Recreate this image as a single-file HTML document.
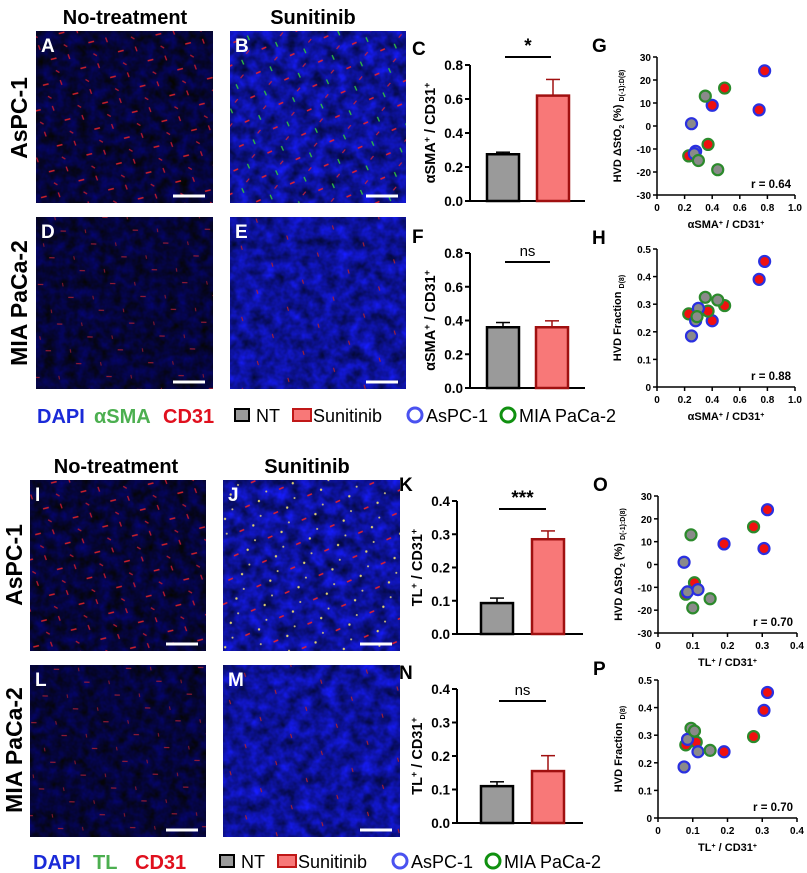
<!DOCTYPE html>
<html><head><meta charset="utf-8"><style>
body{margin:0;background:#fff;}
svg{display:block;font-family:"Liberation Sans",Arial,sans-serif;}
</style></head><body>
<svg id="fig" width="807" height="873" viewBox="0 0 807 873" xmlns="http://www.w3.org/2000/svg">
<defs>
<filter id="nDark" x="0" y="0" width="100%" height="100%" color-interpolation-filters="sRGB">
<feTurbulence type="fractalNoise" baseFrequency="0.09" numOctaves="3" seed="3"/>
<feColorMatrix type="matrix" values="0 0 0 0 0.02  0 0 0 0 0.02  0.55 0 0 0 -0.05  0 0 0 0 1"/>
</filter>
<filter id="nBright" x="0" y="0" width="100%" height="100%" color-interpolation-filters="sRGB">
<feTurbulence type="fractalNoise" baseFrequency="0.08" numOctaves="3" seed="7"/>
<feColorMatrix type="matrix" values="0.1 0 0 0 0.0  0.1 0 0 0 0.02  1.0 0 0 0 0.1  0 0 0 0 1"/>
</filter>
<pattern id="sqR" width="31" height="27" patternUnits="userSpaceOnUse" patternTransform="rotate(17)">
<path d="M4 15 l5 -3" stroke="#d0202a" stroke-width="1.6"/>
<path d="M19 5 l3 4" stroke="#c01830" stroke-width="1.3"/>
<path d="M12 24 l4 1" stroke="#b01830" stroke-width="1.2"/>
</pattern>
<pattern id="sqD" width="33" height="29" patternUnits="userSpaceOnUse" patternTransform="rotate(23)">
<path d="M14 15 l5 -2" stroke="#a01c34" stroke-width="1.2"/>
<path d="M3 4 l2 3" stroke="#901830" stroke-width="1"/>
</pattern>
<pattern id="sqB" width="29" height="25" patternUnits="userSpaceOnUse" patternTransform="rotate(13)">
<path d="M5 14 l4 -3" stroke="#e02030" stroke-width="1.5"/>
<path d="M17 4 l3 4" stroke="#30c040" stroke-width="1.3"/>
<path d="M22 18 l-2 4" stroke="#c02040" stroke-width="1.2"/>
</pattern>
<pattern id="sqJ" width="29" height="25" patternUnits="userSpaceOnUse" patternTransform="rotate(13)">
<path d="M5 14 l4 -3" stroke="#e02030" stroke-width="1.5"/>
<circle cx="17" cy="5" r="1.2" fill="#e0d070"/>
<circle cx="22" cy="19" r="1" fill="#d0c080"/>
</pattern>
<pattern id="sqE" width="35" height="31" patternUnits="userSpaceOnUse" patternTransform="rotate(29)">
<path d="M15 5 l3 3" stroke="#b02030" stroke-width="1.1"/>
</pattern>
</defs>
</svg>
<script>
// ---- data ----
const barCats = ['NT','Sunitinib'];
const barC = [0.275, 0.62];  const errC = [0.012, 0.095];
const barF = [0.36, 0.36];   const errF = [0.028, 0.038];
const barK = [0.093, 0.285]; const errK = [0.015, 0.025];
const barN = [0.11, 0.155];  const errN = [0.013, 0.046];
const sigLabels = ['*','ns','***','ns'];
const ticks08 = [0,0.2,0.4,0.6,0.8];
const ticks04 = [0,0.1,0.2,0.3,0.4];
const ticksDelta = [-30,-20,-10,0,10,20,30];
const ticksFrac = [0,0.1,0.2,0.3,0.4,0.5];
const ticksX1 = [0,0.2,0.4,0.6,0.8,1.0];
const ticksX04 = [0,0.1,0.2,0.3,0.4];
// scatter: fill (g=NT gray, r=Sunitinib red), stroke (b=AsPC-1, g=MIA PaCa-2)
const scFill =   ['r','r','r','r','g','g','r','r','g','g','g','g'];
const scStroke = ['b','b','b','g','g','b','g','g','b','b','g','g'];
const gX = [0.78,0.74,0.40,0.49,0.35,0.25,0.37,0.23,0.28,0.27,0.30,0.44];
const gY = [24,7,9,16.5,13,1,-8,-13,-11,-12,-15,-19];
const hX = [0.78,0.74,0.40,0.49,0.35,0.25,0.37,0.23,0.30,0.28,0.29,0.44];
const hY = [0.455,0.39,0.24,0.295,0.325,0.185,0.275,0.265,0.285,0.24,0.255,0.315];
const oX = [0.315,0.305,0.19,0.275,0.095,0.075,0.105,0.08,0.085,0.115,0.15,0.10];
const oY = [24,7,9,16.5,13,1,-8,-13,-12,-11,-15,-19];
const pX = [0.315,0.305,0.19,0.275,0.095,0.075,0.11,0.08,0.085,0.115,0.15,0.105];
const pY = [0.455,0.39,0.24,0.295,0.325,0.185,0.275,0.265,0.285,0.24,0.245,0.315];

const svg = document.getElementById('fig');
const NS='http://www.w3.org/2000/svg';
function mk(tag, attrs, parent){const e=document.createElementNS(NS,tag);for(const k in attrs)e.setAttribute(k,attrs[k]);(parent||svg).appendChild(e);return e;}
function txt(x,y,s,size,opts,name){opts=opts||{};const t=mk('text',{x:x,y:y,'font-size':size,'font-weight':opts.w||'bold',fill:opts.fill||'#000','text-anchor':opts.a||'start'});if(opts.rot)t.setAttribute('transform','rotate(-90 '+x+' '+y+')');t.textContent=s;


return t;}

// ---- micrographs ----
function img(x,y,w,h,noise,sq,letter,name){
 const r=mk('rect',{x:x,y:y,width:w,height:h,fill:'#0a0c50',filter:'url(#'+noise+')'});
 
 
 mk('rect',{x:x,y:y,width:w,height:h,fill:'url(#'+sq+')'});
 txt(x+5,y+21,letter,19,{fill:'#fff'},'panel-letter-'+letter);
 const sb=mk('line',{x1:x+w-40,y1:y+h-7,x2:x+w-8,y2:y+h-7,stroke:'#fff','stroke-width':3});
 
 
}
img(36,31,177,172,'nDark','sqR','A','image-a');
img(230,31,176,172,'nBright','sqB','B','image-b');
img(36,217,177,172,'nDark','sqD','D','image-d');
img(230,217,176,172,'nBright','sqE','E','image-e');
img(30,480,176,171,'nDark','sqR','I','image-i');
img(223,480,177,171,'nBright','sqJ','J','image-j');
img(30,665,176,172,'nDark','sqD','L','image-l');
img(223,665,177,172,'nBright','sqE','M','image-m');
txt(125,24,'No-treatment',20,{a:'middle'},'column-header-no-treatment');
txt(313,24,'Sunitinib',20,{a:'middle'},'column-header-sunitinib');
txt(116,473,'No-treatment',20,{a:'middle'},'column-header-no-treatment');
txt(307,473,'Sunitinib',20,{a:'middle'},'column-header-sunitinib');
txt(27,118,'AsPC-1',23,{a:'middle',rot:1},'row-label-aspc1');
txt(27,303,'MIA PaCa-2',23,{a:'middle',rot:1},'row-label-miapaca2');
txt(22,565,'AsPC-1',23,{a:'middle',rot:1},'row-label-aspc1');
txt(22,750,'MIA PaCa-2',23,{a:'middle',rot:1},'row-label-miapaca2');

// ---- legends ----
function legend(y,x0,bx,mid,name){
 const g=mk('g',{});
 
 
 let t=txt(x0,y,'DAPI',20,{fill:'#1a2ad8'},'legend-dapi'); g.appendChild(t);
 t=txt(x0+(mid==='TL'?60:57),y,mid,20,{fill:'#4caf50'},'legend-stain'); g.appendChild(t);
 t=txt(x0+(mid==='TL'?102:126),y,'CD31',20,{fill:'#e0101e'},'legend-cd31'); g.appendChild(t);
 mk('rect',{x:bx,y:y-14,width:14,height:12,fill:'#9a9a9a',stroke:'#000','stroke-width':2},g);
 g.appendChild(txt(bx+21,y-1,'NT',18,{w:'normal'},'legend-nt'));
 mk('rect',{x:bx+58,y:y-14,width:18,height:12,fill:'#f87878',stroke:'#c01818','stroke-width':2},g);
 g.appendChild(txt(bx+78,y-1,'Sunitinib',18,{w:'normal'},'legend-sunitinib'));
 mk('circle',{cx:bx+180,cy:y-8,r:7,fill:'none',stroke:'#4a52f0','stroke-width':3},g);
 g.appendChild(txt(bx+191,y-1,'AsPC-1',18,{w:'normal'},'legend-aspc1'));
 mk('circle',{cx:bx+273,cy:y-8,r:7,fill:'none',stroke:'#109010','stroke-width':3},g);
 g.appendChild(txt(bx+284,y-1,'MIA PaCa-2',18,{w:'normal'},'legend-miapaca2'));
}
legend(423,37,235,'αSMA','legend-top');
legend(869,33,220,'TL','legend-bottom');

// ---- bar charts ----
function barChart(o){
 const {x0,x1,yTop,yBot,max,ticks,vals,errs,letter,ylab,sig,bx}=o;
 const ys=v=>yBot-(v/max)*(yBot-yTop);
 txt(x0-58,yTop-10,letter,19,{},'panel-letter-'+letter);
 mk('line',{x1:x0,y1:yTop,x2:x0,y2:yBot,stroke:'#000','stroke-width':2});
 const ax=mk('line',{x1:x0-5,y1:yBot,x2:x1,y2:yBot,stroke:'#000','stroke-width':2});
 
 
 ticks.forEach(t=>{mk('line',{x1:x0-5,y1:ys(t),x2:x0,y2:ys(t),stroke:'#000','stroke-width':2});
  txt(x0-7,ys(t)+5,t.toFixed(1),13.5,{a:'end'},'y-tick-label');});
 const ylbl=txt(x0-35,(yTop+yBot)/2,'',14.5,{a:'middle',rot:1},'y-axis-title');
 ylab.split('|').forEach((p,i)=>{const ts=document.createElementNS(NS,'tspan');ts.textContent=p;if(i%2===1){ts.setAttribute('baseline-shift','super');ts.setAttribute('font-size','9');}ylbl.appendChild(ts);});
 const cols=[['#9a9a9a','#000'],['#f87878','#a01010']];
 vals.forEach((v,i)=>{const bxx=bx[i];const w=32;const cx=bxx+w/2;
  mk('line',{x1:cx,y1:ys(v),x2:cx,y2:ys(v+errs[i]),stroke:cols[i][1],'stroke-width':1.5});
  mk('line',{x1:cx-7,y1:ys(v+errs[i]),x2:cx+7,y2:ys(v+errs[i]),stroke:cols[i][1],'stroke-width':1.5});
  const r=mk('rect',{x:bxx,y:ys(v),width:w,height:yBot-ys(v),fill:cols[i][0],stroke:cols[i][1],'stroke-width':2.5});
  
  
 });
 const cx0=bx[0]+16,cx1=bx[1]+16;
 mk('line',{x1:cx0+2,y1:o.sigY,x2:cx1-2,y2:o.sigY,stroke:'#000','stroke-width':2});
 txt((cx0+cx1)/2,o.sigY-(sig==='ns'?6:5),sig,sig==='ns'?15:19,{a:'middle',w:sig==='ns'?'normal':'bold'},'significance-label');
}
barChart({x0:470,x1:585,yTop:65,yBot:201,max:0.8,ticks:ticks08,vals:barC,errs:errC,letter:'C',ylab:'αSMA|+| / CD31|+|',sig:sigLabels[0],bx:[487,537],sigY:57});
barChart({x0:470,x1:585,yTop:253,yBot:388,max:0.8,ticks:ticks08,vals:barF,errs:errF,letter:'F',ylab:'αSMA|+| / CD31|+|',sig:sigLabels[1],bx:[487,536],sigY:262});
barChart({x0:457,x1:583,yTop:501,yBot:634,max:0.4,ticks:ticks04,vals:barK,errs:errK,letter:'K',ylab:'TL|+| / CD31|+|',sig:sigLabels[2],bx:[481,532],sigY:509});
barChart({x0:457,x1:583,yTop:689,yBot:823,max:0.4,ticks:ticks04,vals:barN,errs:errN,letter:'N',ylab:'TL|+| / CD31|+|',sig:sigLabels[3],bx:[481,532],sigY:701});

// ---- scatter plots ----
function scatter(o){
 const {x0,x1,yTop,yBot,xmax,ymin,ymax,xt,yt,xs_,ys_,letter,ylab,xlab}=o;
 const sx=v=>x0+v/xmax*(x1-x0);
 const sy=v=>yBot-(v-ymin)/(ymax-ymin)*(yBot-yTop);
 txt(x0-65,yTop-5,letter,19,{},'panel-letter-'+letter);
 mk('line',{x1:x0,y1:yTop,x2:x0,y2:yBot,stroke:'#000','stroke-width':1.5});
 mk('line',{x1:x0,y1:yBot,x2:x1,y2:yBot,stroke:'#000','stroke-width':1.5});
 yt.forEach(t=>{mk('line',{x1:x0-4,y1:sy(t),x2:x0,y2:sy(t),stroke:'#000','stroke-width':1.5});
  txt(x0-6,sy(t)+4,String(t),10,{a:'end'},'y-tick-label');});
 xt.forEach(t=>{mk('line',{x1:sx(t),y1:yBot,x2:sx(t),y2:yBot+4,stroke:'#000','stroke-width':1.5});
  txt(sx(t),yBot+16,t===0?'0':t.toFixed(1),10,{a:'middle'},'x-tick-label');});
 const yl=txt(x0-33,(yTop+yBot)/2,'',11,{a:'middle',rot:1},'y-axis-title');
 ylab.forEach(p=>{const ts=document.createElementNS(NS,'tspan');ts.textContent=p[0];if(p[1]){ts.setAttribute('font-size','7');ts.setAttribute('dy',p[1]==='sub'?'3':'0');}else{ts.setAttribute('dy','-3');}yl.appendChild(ts);});
 const xl=txt((x0+x1)/2,yBot+33,'',11,{a:'middle'},'x-axis-title');
 xlab.forEach(p=>{const ts=document.createElementNS(NS,'tspan');ts.textContent=p[0];if(p[1]){ts.setAttribute('font-size','7');ts.setAttribute('baseline-shift','super');}xl.appendChild(ts);});
 txt(x1-4,yBot-7,o.rlab,11.5,{a:'end'},'correlation-label');
 xs_.forEach((v,i)=>{
  const c=mk('circle',{cx:sx(v),cy:sy(ys_[i]),r:5.5,fill:scFill[i]==='r'?'#f01010':'#8a8a8a',stroke:scStroke[i]==='b'?'#2a30e0':'#2c8a2c','stroke-width':2.2});
  
  
 });
}
const dlab=[['HVD ΔStO'],['2','sub'],[' (%) '],['D(-1):D(8)','sub']];
const flab=[['HVD Fraction '],['D(8)','sub']];
scatter({x0:657,x1:795,yTop:57,yBot:195,xmax:1,ymin:-30,ymax:30,xt:ticksX1,yt:ticksDelta,xs_:gX,ys_:gY,letter:'G',ylab:dlab,xlab:[['αSMA'],['+','s'],[' / CD31'],['+','s']],rlab:'r = 0.64'});
scatter({x0:657,x1:795,yTop:249,yBot:387,xmax:1,ymin:0,ymax:0.5,xt:ticksX1,yt:ticksFrac,xs_:hX,ys_:hY,letter:'H',ylab:flab,xlab:[['αSMA'],['+','s'],[' / CD31'],['+','s']],rlab:'r = 0.88'});
scatter({x0:658,x1:797,yTop:496,yBot:633,xmax:0.4,ymin:-30,ymax:30,xt:ticksX04,yt:ticksDelta,xs_:oX,ys_:oY,letter:'O',ylab:dlab,xlab:[['TL'],['+','s'],[' / CD31'],['+','s']],rlab:'r = 0.70'});
scatter({x0:658,x1:797,yTop:680,yBot:818,xmax:0.4,ymin:0,ymax:0.5,xt:ticksX04,yt:ticksFrac,xs_:pX,ys_:pY,letter:'P',ylab:flab,xlab:[['TL'],['+','s'],[' / CD31'],['+','s']],rlab:'r = 0.70'});
</script>
</body></html>
